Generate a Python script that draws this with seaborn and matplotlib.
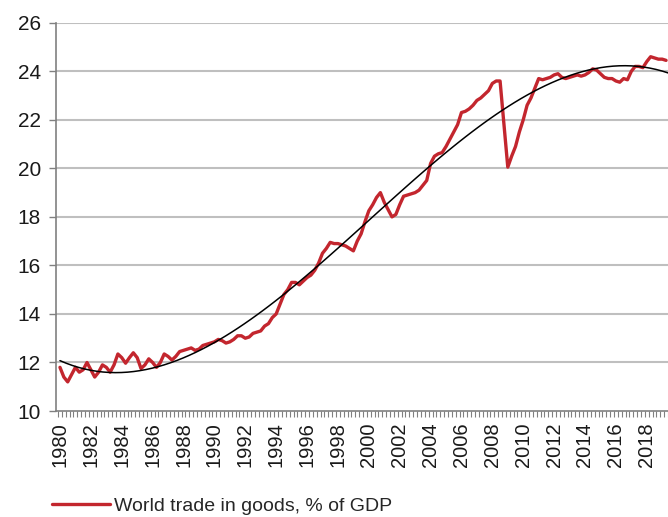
import numpy as np
import pandas as pd
import matplotlib
matplotlib.use("Agg")
import matplotlib.pyplot as plt
import seaborn as sns

# ==========================================================
# DATA  (world trade in goods, % of GDP, quarterly 1980Q1-2019Q2)
# ==========================================================

start_year = 1980

trade_1980s = [
    11.8, 11.4, 11.2, 11.5,
    11.8, 11.6, 11.7, 12.0,
    11.7, 11.4, 11.6, 11.9,
    11.8, 11.6, 11.9, 12.35,
    12.2, 11.97, 12.2, 12.4,
    12.2, 11.75, 11.9, 12.15,
    12.0, 11.8, 12.0, 12.35,
    12.25, 12.1, 12.25, 12.45,
    12.5, 12.55, 12.6, 12.5,
    12.55, 12.7, 12.75, 12.8,
]

trade_1990s = [
    12.85, 12.95, 12.9, 12.8,
    12.85, 12.95, 13.1, 13.1,
    13.0, 13.05, 13.2, 13.25,
    13.3, 13.5, 13.6, 13.85,
    14.0, 14.4, 14.8, 15.0,
    15.3, 15.3, 15.2, 15.35,
    15.5, 15.6, 15.8, 16.1,
    16.5, 16.7, 16.95, 16.9,
    16.9, 16.85, 16.8, 16.7,
    16.6, 17.0, 17.3, 17.8,
]

trade_2000s = [
    18.25, 18.5, 18.8, 19.0,
    18.6, 18.3, 18.0, 18.1,
    18.5, 18.85, 18.9, 18.95,
    19.0, 19.1, 19.3, 19.5,
    20.2, 20.5, 20.6, 20.65,
    20.9, 21.2, 21.5, 21.8,
    22.3, 22.35, 22.45, 22.6,
    22.8, 22.9, 23.05, 23.2,
    23.5, 23.6, 23.6, 21.8,
    20.05, 20.5, 20.9, 21.5,
]

trade_2010s = [
    22.0, 22.6, 22.9, 23.3,
    23.7, 23.65, 23.7, 23.75,
    23.85, 23.9, 23.75, 23.7,
    23.75, 23.8, 23.85, 23.8,
    23.85, 23.95, 24.1, 24.05,
    23.9, 23.75, 23.7, 23.7,
    23.6, 23.55, 23.7, 23.65,
    24.0, 24.2, 24.2, 24.15,
    24.4, 24.6, 24.55, 24.5,
    24.5, 24.45,
]

# points
trend_years = [1980.0, 1983.6, 1987.7, 1990.9, 1992.8, 1994.7, 1996.6,
               1999.6, 2001.1, 2003.9, 2006.8, 2008.75, 2010.9,
               2014.5, 2016.2, 2017.9, 2019.4]
trend_values = [12.1, 11.55, 12.18, 13.0, 13.97, 15.0, 15.97,
                17.62, 18.5, 20.1, 21.55, 22.37, 23.27,
                24.07, 24.21, 24.17, 23.95]

tick_years = list(range(1980, 2019, 2))
y_ticks = [10, 12, 14, 16, 18, 20, 22, 24, 26]

legend_label = "World trade in goods, % of GDP"

trade = trade_1980s + trade_1990s + trade_2000s + trade_2010s
df = pd.DataFrame({"q": np.arange(len(trade)), "trade": trade})

trend_df = pd.DataFrame({
    "q": [(y - start_year) * 4 for y in trend_years],
    "trend": trend_values
})

# ==========================================================
# PLOT
# ==========================================================

sns.set_theme(style="white")
plt.rcParams["font.family"] = ["Liberation Sans", "DejaVu Sans"]

red = "#C3262E"
grey = "#BFBFBF"

fig = plt.figure(figsize=(6.68, 5.17), dpi=100)
ax = fig.add_axes([0.084, 0.205, 0.916, 0.751])

for v in y_ticks[1:]:
    ax.axhline(v, color=grey, lw=1.5, zorder=0)

# polynomial trend line
sns.regplot(
    data=trend_df, x="q", y="trend",
    order=3, scatter=False, ci=None,
    line_kws=dict(color="black", lw=1.1, zorder=3),
    ax=ax
)

sns.lineplot(
    data=df, x="q", y="trade",
    color=red, lw=2.4, ax=ax, zorder=2
)

ax.set_xlim(-1.0, 155.5)
ax.set_ylim(10, 26)
ax.set_yticks(y_ticks)
ax.set_yticklabels([str(v) for v in y_ticks], fontsize=15, color="#1a1a1a")

tick_pos = [(y - start_year) * 4 for y in tick_years]
ax.set_xticks(tick_pos)
ax.set_xticklabels([str(y) for y in tick_years], rotation=90,
                   fontsize=14.5, color="#1a1a1a")
ax.set_xticks(np.arange(len(trade) + 1) - 0.5, minor=True)

ax.tick_params(axis="x", which="major", length=0, pad=8)
ax.tick_params(axis="x", which="minor", length=4, width=0.8,
               color="#808080", direction="out", bottom=True)
ax.tick_params(axis="y", length=5, width=1, color="#808080",
               direction="out", left=True, pad=6)

ax.set_xlabel("")
ax.set_ylabel("")

for s in ["top", "right"]:
    ax.spines[s].set_visible(False)
ax.spines["left"].set_color("#808080")
ax.spines["bottom"].set_color("#808080")
ax.spines["left"].set_linewidth(1.2)
ax.spines["bottom"].set_linewidth(1.2)

handle = plt.Line2D([], [], color=red, lw=2.4)
fig.legend([handle], [legend_label], loc="lower left",
           bbox_to_anchor=(0.052, -0.030), frameon=False,
           fontsize=14, handlelength=2.95, handletextpad=0.25)

fig.savefig("out.png", dpi=100)
